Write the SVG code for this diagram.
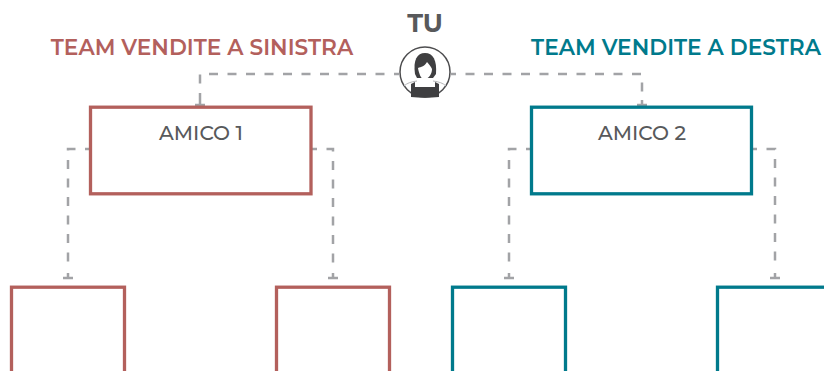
<svg xmlns="http://www.w3.org/2000/svg" width="824" height="371" viewBox="0 0 824 371">
<style>
.t{font-family:"Montserrat","Open Sans","Liberation Sans",sans-serif}
.h{font-size:21.700px;font-weight:600}
.l{font-size:20.200px;font-weight:500;fill:#58595b;text-anchor:middle}
.b{fill:#fff;stroke-width:3.300}
.r{stroke:#b3605c}
.g{stroke:#007a8c}
.c{fill:none;stroke:#a2a3a6;stroke-width:2.500;stroke-dasharray:9 9.500;stroke-dashoffset:4}
.e{fill:none;stroke:#a2a3a6;stroke-width:2.500}
</style>
<rect width="824" height="371" fill="#fff"/>
<g id="connectors">
<path class="c" d="M399 74H200V100"/>
<path class="c" d="M451 74H642V100"/>
<path class="c" d="M90 149H68V268"/>
<path class="c" d="M312 149H333V268"/>
<path class="c" d="M531 149H509V268"/>
<path class="c" d="M752 149H775V268"/>
<path class="e" d="M195 105H205M637 105H647M63 278H73M328 278H338M504 278H514M770 278H780M68 273V278M333 273V278M509 273V278M775 273V278M200 100V105M642 100V105"/>
</g>
<g id="tu">
<text class="t" x="425" y="32" font-size="25.500" font-weight="700" fill="#58595b" text-anchor="middle">TU</text>
<circle cx="425" cy="72" r="25" fill="#fff" stroke="#4d4d4f" stroke-width="1.500"/>
<path d="M404 86Q408 82 417 81M446 86Q442 82 433 81" fill="none" stroke="#b5b6b8" stroke-width="1"/>
<path d="M411 97V84L415 82V87H435V82L439 84V97Q425 98.500 411 97Z" fill="#3f3f41"/>
<path d="M415 74C413 60 417 53 425 53C433 53 437 60 436 74L433 78H417Z" fill="#3f3f41"/>
<path d="M418 68C421 67 425 66 427 62C429 64 431 67 432 69C432 74 429 78 425.500 79V82L430 84H420L423 82V79C421 78 419 74 418 68Z" fill="#fff"/>
</g>
<g id="label-left"><text class="t h" x="202" y="55" fill="#b3605c" text-anchor="middle">TEAM VENDITE A SINISTRA</text></g>
<g id="label-right"><text class="t h" x="676" y="55" fill="#007a8c" text-anchor="middle">TEAM VENDITE A DESTRA</text></g>
<g id="amico1"><rect class="b r" x="90.500" y="107.200" width="220.500" height="86.600"/><text class="t l" x="201" y="140">AMICO 1</text></g>
<g id="amico2"><rect class="b g" x="531.500" y="107.200" width="220" height="86.600"/><text class="t l" x="642" y="140">AMICO 2</text></g>
<g id="box-ll"><rect class="b r" x="11.500" y="287.200" width="113" height="100"/></g>
<g id="box-lr"><rect class="b r" x="276.500" y="287.200" width="113" height="100"/></g>
<g id="box-rl"><rect class="b g" x="452.500" y="287.200" width="113" height="100"/></g>
<g id="box-rr"><rect class="b g" x="717.500" y="287.200" width="113" height="100"/></g>
</svg>
